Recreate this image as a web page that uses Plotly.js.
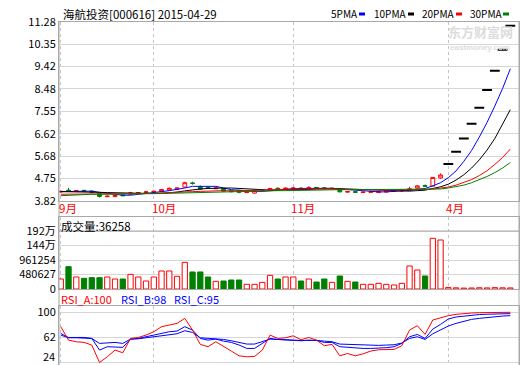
<!DOCTYPE html>
<html><head><meta charset="utf-8">
<script src="https://cdn.plot.ly/plotly-3.0.1.min.js"></script>
<style>html,body{margin:0;padding:0;background:#fff}#chart{width:520px;height:365px}</style>
</head><body><div id="chart"></div>
<script>
// ---------- data ----------
const stockTitle = '海航投资[000616] 2015-04-29';
const monthLabels = ['9月', '10月', '11月', '4月'];
const monthStart = [0, 12, 30, 50];
const priceTickLabels = ['3.82', '4.75', '5.68', '6.62', '7.55', '8.48', '9.42', '10.35', '11.28'];
const volTickLabels = ['0', '480627', '961254', '144万', '192万'];
const volTickValues = [0, 480627, 961254, 1441881, 1922508];
const rsiTickValues = [24, 62, 100];

const openP = [4.20,4.27,4.22,4.26,4.23,4.12,4.00,4.00,4.07,4.10, 4.14,4.17,4.19,4.22,4.28,4.31,4.40,4.57,4.42,4.38,
  4.33,4.33,4.25,4.26,4.17,4.15,4.25,4.27,4.35,4.33, 4.33,4.36,4.33,4.38,4.37,4.33,4.31,4.19,4.21,4.17,
  4.18,4.17,4.19,4.23,4.24,4.27,4.36,4.46,4.44,4.78, 5.36,5.87,6.42,7.03,7.70,8.44,9.24,10.11,11.11];
const highP = [4.24,4.37,4.27,4.29,4.25,4.13,4.05,4.07,4.09,4.20, 4.19,4.24,4.25,4.32,4.38,4.38,4.62,4.62,4.47,4.43,
  4.39,4.36,4.27,4.28,4.21,4.28,4.29,4.37,4.38,4.38, 4.41,4.38,4.44,4.40,4.39,4.37,4.33,4.23,4.22,4.21,
  4.22,4.23,4.26,4.27,4.30,4.41,4.48,4.51,4.82,4.97, 5.36,5.87,6.42,7.03,7.70,8.44,9.24,10.11,11.11];
const lowP = [4.17,4.20,4.20,4.21,4.17,3.96,3.98,3.98,4.02,4.08, 4.12,4.15,4.17,4.20,4.25,4.28,4.38,4.50,4.28,4.32,
  4.31,4.21,4.18,4.14,4.15,4.13,4.23,4.25,4.31,4.31, 4.31,4.31,4.32,4.33,4.33,4.31,4.18,4.17,4.16,4.16,
  4.17,4.16,4.18,4.21,4.20,4.25,4.34,4.40,4.42,4.74, 5.36,5.87,6.42,7.03,7.70,8.44,9.24,10.11,11.11];
const closeP = [4.22,4.24,4.25,4.23,4.19,4.01,4.02,4.05,4.04,4.16, 4.17,4.20,4.22,4.30,4.35,4.36,4.58,4.55,4.31,4.35,
  4.36,4.23,4.21,4.18,4.19,4.27,4.27,4.34,4.33,4.35, 4.36,4.33,4.37,4.36,4.34,4.35,4.20,4.21,4.18,4.19,
  4.20,4.21,4.24,4.25,4.26,4.33,4.45,4.43,4.80,4.90, 5.36,5.87,6.42,7.03,7.70,8.44,9.24,10.11,11.11];

const ma5 = [4.21,4.21,4.22,4.22,4.23,4.18,4.14,4.10,4.06,4.06, 4.09,4.12,4.16,4.21,4.25,4.29,4.36,4.43,4.43,4.43,
  4.43,4.36,4.29,4.27,4.23,4.22,4.22,4.25,4.28,4.31, 4.33,4.34,4.35,4.35,4.35,4.35,4.32,4.29,4.26,4.23,
  4.20,4.20,4.20,4.22,4.23,4.26,4.31,4.34,4.45,4.58, 4.79,5.07,5.47,5.92,6.48,7.09,7.77,8.50,9.32];
const ma10 = [4.21,4.21,4.20,4.20,4.19,4.18,4.17,4.16,4.15,4.14, 4.14,4.13,4.13,4.14,4.15,4.19,4.24,4.29,4.32,4.34,
  4.36,4.36,4.36,4.35,4.33,4.32,4.29,4.27,4.27,4.27, 4.27,4.28,4.30,4.32,4.33,4.34,4.33,4.32,4.31,4.29,
  4.27,4.26,4.25,4.24,4.23,4.23,4.25,4.27,4.34,4.41, 4.52,4.69,4.91,5.19,5.53,5.94,6.42,6.99,7.62];
const ma20 = [4.10,4.10,4.11,4.11,4.12,4.13,4.13,4.13,4.12,4.12, 4.12,4.13,4.14,4.16,4.17,4.18,4.20,4.21,4.22,4.24,
  4.25,4.25,4.24,4.24,4.24,4.26,4.27,4.28,4.30,4.31, 4.32,4.32,4.33,4.33,4.33,4.33,4.31,4.30,4.29,4.28,
  4.27,4.27,4.27,4.28,4.28,4.28,4.29,4.30,4.32,4.35, 4.40,4.48,4.58,4.71,4.88,5.08,5.34,5.63,5.98];
const ma30 = [4.04,4.06,4.08,4.09,4.10,4.10,4.10,4.10,4.10,4.11, 4.11,4.11,4.12,4.13,4.14,4.15,4.16,4.17,4.18,4.19,
  4.20,4.21,4.21,4.22,4.22,4.23,4.24,4.24,4.25,4.25, 4.26,4.26,4.26,4.27,4.27,4.28,4.29,4.29,4.30,4.30,
  4.30,4.30,4.30,4.30,4.30,4.30,4.29,4.29,4.30,4.32, 4.36,4.41,4.48,4.58,4.70,4.84,5.00,5.19,5.42];

const volume = [331000,740000,398000,354000,376000,376000,398000,331000,331000,486000,
  398000,265000,398000,597000,597000,420000,884000,564000,564000,398000,
  254000,265000,298000,298000,155000,155000,221000,453000,331000,398000,
  398000,265000,331000,232000,331000,221000,431000,254000,232000,155000,
  155000,188000,155000,133000,188000,762000,630000,431000,1680000,1624000,
  51230,38410,29870,33560,41200,36980,45110,39800,36258];

const rsiA = [78.2,57.9,55.4,54.4,50.4,24.0,32.6,42.8,38.7,60.4, 61.9,65.5,70.6,78.2,80.7,83.2,90.8,73.1,51.4,47.9,
  55.4,48.9,41.3,34.1,32.6,33.1,42.8,65.5,60.4,61.4, 64.5,58.4,61.9,57.9,49.4,51.4,34.1,37.6,34.1,37.1,
  41.3,43.3,43.8,43.8,49.4,73.1,79.7,66.5,88.3,91.8, 94.9,96.9,98.4,98.9,99.4,99.8,100,100,100];
const rsiB = [68.0,61.9,61.9,61.9,60.4,42.8,47.9,47.9,46.9,59.4, 60.4,63.0,65.5,68.0,70.6,71.6,78.2,73.1,60.4,57.9,
  59.4,56.4,54.4,50.4,45.3,45.3,52.9,60.4,58.9,57.9, 57.9,56.9,57.9,57.4,54.4,54.4,47.9,46.9,45.3,45.3,
  45.3,45.3,46.4,47.9,52.9,63.0,66.5,60.4,74.6,81.7, 89.8,92.9,94.4,95.9,96.6,97.1,97.5,97.8,98.0];
const rsiC = [65.5,61.4,61.4,61.4,60.4,52.9,53.9,54.4,52.9,59.4, 59.9,61.4,63.0,65.5,66.5,67.5,72.1,69.5,61.4,60.4,
  60.4,58.9,56.9,53.9,51.9,51.9,55.4,59.4,58.9,57.9, 57.9,57.4,57.9,57.4,56.4,55.4,51.9,51.4,50.4,50.4,
  49.9,49.9,50.4,50.9,53.4,60.4,63.0,58.9,67.5,73.1, 79.2,83.2,86.8,89.3,90.8,92.3,93.5,94.3,95.0];

// ---------- build ----------
const N = closeP.length;
const days = Array.from({length: N}, (_, i) => i);
const RED = '#ff0000', GREEN = '#008000', BLUE = '#0000ff', BLACK = '#000000';
const H = 365, W = 520;
const py = p => 1 - p / H;              // pixel row -> paper y
const px = p => (p - 59) / 460;         // pixel col -> paper x
const FONT = 'Noto Sans CJK SC, Liberation Sans, sans-serif';

const isFlat = days.map(i => openP[i] === highP[i] && highP[i] === lowP[i] && lowP[i] === closeP[i]);
const normalIdx = days.filter(i => !isFlat[i]);
const flatIdx = days.filter(i => isFlat[i]);
const pick = (arr, idx) => idx.map(i => arr[i]);

const traces = [
  {type: 'candlestick', xaxis: 'x', yaxis: 'y', x: normalIdx,
   open: pick(openP, normalIdx), high: pick(highP, normalIdx), low: pick(lowP, normalIdx), close: pick(closeP, normalIdx),
   increasing: {line: {color: RED, width: 1}, fillcolor: '#ffffff'},
   decreasing: {line: {color: GREEN, width: 1}, fillcolor: GREEN}, hoverinfo: 'skip'},
  // one-price (limit-up) days drawn as short black dashes
  {type: 'scatter', mode: 'markers', xaxis: 'x', yaxis: 'y', x: flatIdx, y: pick(closeP, flatIdx),
   marker: {symbol: 'line-ew-open', size: 7, color: BLACK, line: {color: BLACK, width: 2}}, hoverinfo: 'skip'},
  {type: 'scatter', mode: 'lines', x: days, y: ma5, line: {color: BLUE, width: 1}, xaxis: 'x', yaxis: 'y'},
  {type: 'scatter', mode: 'lines', x: days, y: ma10, line: {color: BLACK, width: 1}, xaxis: 'x', yaxis: 'y'},
  {type: 'scatter', mode: 'lines', x: days, y: ma20, line: {color: RED, width: 1}, xaxis: 'x', yaxis: 'y'},
  {type: 'scatter', mode: 'lines', x: days, y: ma30, line: {color: GREEN, width: 1}, xaxis: 'x', yaxis: 'y'},
  {type: 'bar', x: days, y: volume, xaxis: 'x2', yaxis: 'y2', width: 0.68,
   marker: {color: days.map(i => closeP[i] >= openP[i] ? '#ffffff' : GREEN),
            line: {color: days.map(i => closeP[i] >= openP[i] ? RED : GREEN), width: 1}}},
  {type: 'scatter', mode: 'lines', x: days, y: rsiC, line: {color: BLUE, width: 1}, xaxis: 'x3', yaxis: 'y3'},
  {type: 'scatter', mode: 'lines', x: days, y: rsiB, line: {color: BLUE, width: 1}, xaxis: 'x3', yaxis: 'y3'},
  {type: 'scatter', mode: 'lines', x: days, y: rsiA, line: {color: RED, width: 1}, xaxis: 'x3', yaxis: 'y3'}
];

const pMin = parseFloat(priceTickLabels[0]), pMax = parseFloat(priceTickLabels[priceTickLabels.length - 1]);
const priceTickVals = priceTickLabels.map((_, k) => pMin + k * (pMax - pMin) / (priceTickLabels.length - 1));

const BORDER = '#a8a8a8', GRID = '#d6d6d6', VGRID = '#c4c4c4';
const xBase = {range: [-0.23, 59.12], showticklabels: false, tickvals: monthStart, ticks: '',
  showgrid: true, gridcolor: VGRID, griddash: '3px,3px', gridwidth: 1, zeroline: false,
  showline: true, mirror: true, linecolor: BORDER, linewidth: 1, fixedrange: true};
const yBase = {showgrid: true, gridcolor: GRID, gridwidth: 1, zeroline: false, ticks: '',
  showline: true, mirror: true, linecolor: BORDER, linewidth: 1, fixedrange: true,
  tickfont: {family: FONT, size: 11, color: '#000'}};

const rsiRange = [20.96, 110.0];
const volTop = 1922508 * 72 / 58;

const annotations = [
  {xref: 'paper', yref: 'paper', x: px(61), y: py(14), xanchor: 'left', yanchor: 'middle', showarrow: false,
   text: stockTitle, font: {family: FONT, size: 11.5, color: '#000'}},
  {xref: 'paper', yref: 'paper', x: px(59), y: py(226), xanchor: 'left', yanchor: 'middle', showarrow: false,
   text: '成交量:' + volume[N - 1], font: {family: FONT, size: 11.5, color: '#000'}},
  {xref: 'paper', yref: 'paper', x: px(59), y: py(299), xanchor: 'left', yanchor: 'middle', showarrow: false,
   text: 'RSI_A:' + Math.round(rsiA[N - 1]), font: {family: FONT, size: 11, color: RED}},
  {xref: 'paper', yref: 'paper', x: px(119), y: py(299), xanchor: 'left', yanchor: 'middle', showarrow: false,
   text: 'RSI_B:' + Math.round(rsiB[N - 1]), font: {family: FONT, size: 11, color: BLUE}},
  {xref: 'paper', yref: 'paper', x: px(172), y: py(299), xanchor: 'left', yanchor: 'middle', showarrow: false,
   text: 'RSI_C:' + Math.round(rsiC[N - 1]), font: {family: FONT, size: 11, color: BLUE}},
  {xref: 'paper', yref: 'paper', x: px(480), y: py(32), xanchor: 'center', yanchor: 'middle', showarrow: false,
   borderpad: 0, text: '<b>东方财富网</b>', font: {family: FONT, size: 13, color: '#dcdcdc'}},
  {xref: 'paper', yref: 'paper', x: px(480), y: py(47), xanchor: 'center', yanchor: 'middle', showarrow: false,
   borderpad: 0, text: '<b>eastmoney.com</b>', font: {family: 'Liberation Sans, sans-serif', size: 8, color: '#dcdcdc'}},
  // bottom RSI tick label (kept inside the picture)
  {xref: 'paper', yref: 'paper', x: px(56), y: py(364.5), xanchor: 'right', yanchor: 'bottom', showarrow: false,
   borderpad: 0, text: String(rsiTickValues[0]), font: {family: FONT, size: 11, color: '#000'}}
];
monthLabels.forEach((m, k) => annotations.push({xref: 'x', yref: 'paper', x: monthStart[k], y: py(208),
  xanchor: 'left', yanchor: 'middle', xshift: -4, showarrow: false, text: m,
  font: {family: FONT, size: 11.5, color: RED}}));

const legendItems = [['5PMA', BLUE, 330, 359], ['10PMA', BLACK, 373, 408], ['20PMA', RED, 421, 456], ['30PMA', GREEN, 469, 503]];
const shapes = [];
legendItems.forEach(([t, c, tx, mx]) => {
  annotations.push({xref: 'paper', yref: 'paper', x: px(tx), y: py(14), xanchor: 'left', yanchor: 'middle',
    borderpad: 0, showarrow: false, text: t, font: {family: FONT, size: 10, color: '#000'}});
  shapes.push({type: 'rect', xref: 'paper', yref: 'paper', x0: px(mx), x1: px(mx + 6), y0: py(15.5), y1: py(12.5),
    fillcolor: c, line: {width: 0}});
});
shapes.push({type: 'line', xref: 'paper', yref: 'paper', x0: 0, x1: 0, y0: py(365), y1: py(21.7), line: {color: BORDER, width: 1}});
shapes.push({type: 'line', xref: 'paper', yref: 'paper', x0: 1, x1: 1, y0: py(365), y1: py(21.7), line: {color: BORDER, width: 1}});
shapes.push({type: 'line', xref: 'paper', yref: 'y2', x0: 0, x1: 1, y0: volTickValues[4], y1: volTickValues[4], line: {color: BORDER, width: 1}});

const layout = {
  width: W, height: H, margin: {l: 59, r: 1, t: 0, b: 0}, paper_bgcolor: '#fff', plot_bgcolor: '#fff',
  showlegend: false, font: {family: FONT, size: 11, color: '#000'},
  xaxis: Object.assign({}, xBase, {anchor: 'y', rangeslider: {visible: false}}),
  xaxis2: Object.assign({}, xBase, {anchor: 'y2'}),
  xaxis3: Object.assign({}, xBase, {anchor: 'y3'}),
  yaxis: Object.assign({}, yBase, {domain: [py(201), py(21.7)], range: [pMin - 0.0005, pMax + 0.0005],
    tickvals: priceTickVals, ticktext: priceTickLabels}),
  yaxis2: Object.assign({}, yBase, {domain: [py(289), py(217)], range: [0, volTop],
    tickvals: volTickValues, ticktext: volTickLabels}),
  yaxis3: Object.assign({}, yBase, {domain: [py(364.5), py(305.7)], range: rsiRange,
    tickvals: rsiTickValues, ticktext: ['', String(rsiTickValues[1]), String(rsiTickValues[2])]}),
  annotations: annotations, shapes: shapes
};

Plotly.newPlot('chart', traces, layout, {staticPlot: true, displayModeBar: false});
</script></body></html>
